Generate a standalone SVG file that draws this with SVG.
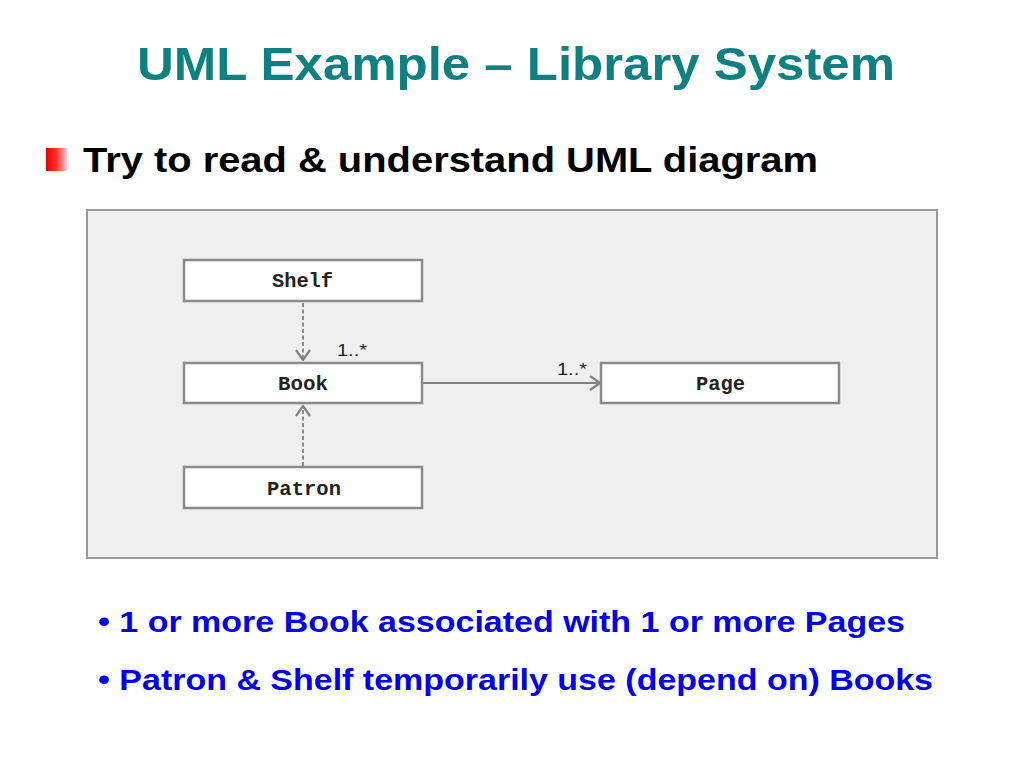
<svg xmlns="http://www.w3.org/2000/svg" width="1024" height="768" viewBox="0 0 1024 768">
<defs>
<linearGradient id="bulletGrad" x1="0" y1="0" x2="1" y2="0">
<stop offset="0" stop-color="#e60000"/>
<stop offset="0.5" stop-color="#ff3030"/>
<stop offset="1" stop-color="#ffc8c8"/>
</linearGradient>
<marker id="openArrow" viewBox="0 0 12 16" refX="11" refY="8" markerWidth="12" markerHeight="16" markerUnits="userSpaceOnUse" orient="auto">
<path d="M1,1 L11,8 L1,15" fill="none" stroke="#808080" stroke-width="2.2"/>
</marker>
</defs>
<style>
.title{font-family:"Liberation Sans",Arial,sans-serif;font-weight:bold;font-size:47px;fill:#0e8080}
.head{font-family:"Liberation Sans",Arial,sans-serif;font-weight:bold;font-size:35px;fill:#000}
.note{font-family:"Liberation Sans",Arial,sans-serif;font-weight:bold;font-size:30px;fill:#0000ee}
.box{fill:#fff;stroke:#8a8a8a;stroke-width:2.5}
.lbl{font-family:"Liberation Mono","Courier New",monospace;font-weight:bold;font-size:20px;fill:#222}
.mult{font-family:"Liberation Sans",Arial,sans-serif;font-size:16px;fill:#222}
.dep{fill:none;stroke:#8a8a8a;stroke-width:2;stroke-dasharray:4 2.5}
.assoc{fill:none;stroke:#808080;stroke-width:2}
</style>
<rect width="1024" height="768" fill="#fff"/>
<text class="title" x="137" y="80" textLength="758" lengthAdjust="spacingAndGlyphs">UML Example – Library System</text>
<rect x="46" y="148" width="21" height="23" fill="url(#bulletGrad)"/>
<text class="head" x="83" y="172" textLength="735" lengthAdjust="spacingAndGlyphs">Try to read &amp; understand UML diagram</text>
<rect x="87" y="210" width="850" height="348" fill="#efefef" stroke="#9a9a9a" stroke-width="2"/>
<g id="connectors">
<path class="dep" d="M303,303 L303,360" marker-end="url(#openArrow)"/>
<path class="dep" d="M303,466 L303,406" marker-end="url(#openArrow)"/>
<path class="assoc" d="M422,383 L600,383" marker-end="url(#openArrow)"/>
<text class="mult" x="337" y="356" textLength="30" lengthAdjust="spacingAndGlyphs">1..*</text>
<text class="mult" x="557" y="375" textLength="30" lengthAdjust="spacingAndGlyphs">1..*</text>
</g>
<g id="shelf">
<rect class="box" x="184" y="260" width="238" height="41"/>
<text class="lbl" x="272" y="287" textLength="61" lengthAdjust="spacingAndGlyphs">Shelf</text>
</g>
<g id="book">
<rect class="box" x="184" y="363" width="238" height="40"/>
<text class="lbl" x="278" y="390" textLength="50" lengthAdjust="spacingAndGlyphs">Book</text>
</g>
<g id="patron">
<rect class="box" x="184" y="467" width="238" height="41"/>
<text class="lbl" x="267" y="495" textLength="74" lengthAdjust="spacingAndGlyphs">Patron</text>
</g>
<g id="page">
<rect class="box" x="601" y="363" width="238" height="40"/>
<text class="lbl" x="696" y="390" textLength="49" lengthAdjust="spacingAndGlyphs">Page</text>
</g>
<text class="note" x="98" y="632" textLength="807" lengthAdjust="spacingAndGlyphs">• 1 or more Book associated with 1 or more Pages</text>
<text class="note" x="98" y="690" textLength="835" lengthAdjust="spacingAndGlyphs">• Patron &amp; Shelf temporarily use (depend on) Books</text>
</svg>
